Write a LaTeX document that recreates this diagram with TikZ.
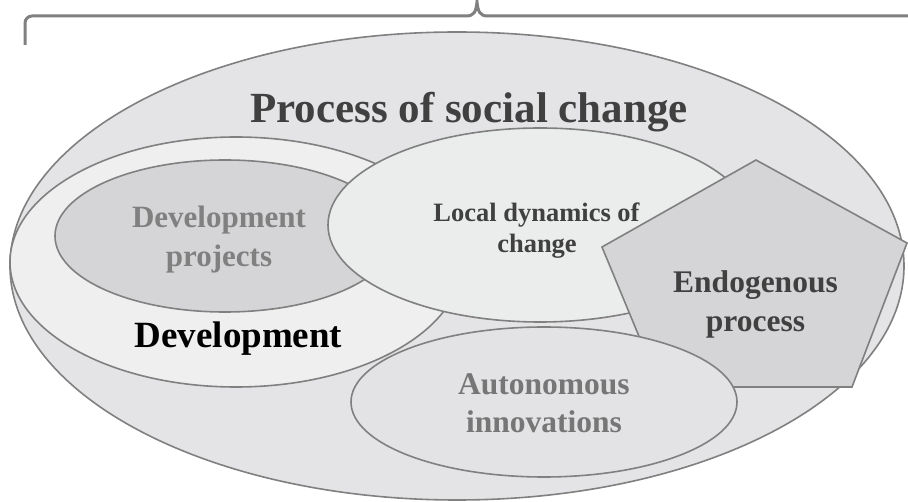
\documentclass[tikz,border=0pt]{standalone}
\usepackage{fontspec}
\setmainfont{Liberation Serif}
\usetikzlibrary{shapes.geometric}
\definecolor{edgegray}{RGB}{128,128,128}
\definecolor{outerfill}{RGB}{228,228,230}
\definecolor{devfill}{RGB}{239,239,239}
\definecolor{projfill}{RGB}{213,213,215}
\definecolor{localfill}{RGB}{235,236,236}
\definecolor{pentfill}{RGB}{213,213,215}
\definecolor{autofill}{RGB}{227,227,229}
\definecolor{darktext}{RGB}{64,64,64}
\definecolor{greytext}{RGB}{128,128,128}
\definecolor{autotext}{RGB}{118,118,118}
\begin{document}
\begin{tikzpicture}[x=1pt,y=-1pt,
  blob/.style={ellipse, draw=edgegray, line width=1.6pt, inner sep=0pt, outer sep=0pt},
  lbl/.style={anchor=base, inner sep=0pt, font={\bfseries\fontsize{#1}{#1}\selectfont}},
]
\useasboundingbox (0,0) rectangle (908,502);
\clip (0,0) rectangle (908,502);
\fill[white] (0,0) rectangle (908,502);

% brace
\draw[edgegray, line width=3pt, rounded corners=7pt]
  (25,45) -- (25,16) -- (466,16);
\draw[edgegray, line width=3pt]
  (466,16) .. controls (474,16) and (476,12) .. (477,2)
  .. controls (478,12) and (480,16) .. (488,16);
\draw[edgegray, line width=3pt, rounded corners=7pt]
  (488,16) -- (929,16) -- (929,45);

% shapes
\node[blob, fill=outerfill, minimum width=894pt, minimum height=468pt] (outer) at (457,266) {};
\node[blob, fill=devfill, minimum width=452pt, minimum height=250pt] (dev) at (236,262) {};
\node[blob, fill=projfill, minimum width=340pt, minimum height=152pt] (proj) at (225,236) {};
\node[blob, fill=localfill, minimum width=424pt, minimum height=194pt] (local) at (540,225) {};
\coordinate (pt) at (756,160);
\coordinate (pr) at (907,243);
\coordinate (pbr) at (852,387);
\coordinate (pbl) at (660,387);
\coordinate (pl) at (602,247);
\draw[draw=edgegray, fill=pentfill, line width=1.6pt, line join=miter]
  (pt) -- (pr) -- (pbr) -- (pbl) -- (pl) -- cycle;
\node[blob, fill=autofill, minimum width=386pt, minimum height=150pt] (auto) at (544,402) {};

% labels
\node[lbl=43, text=darktext] (title) at (469,123) {Process of social change};
\node[lbl=31, text=greytext] (proj1) at (219,228) {Development};
\node[lbl=31, text=greytext] (proj2) at (219,267) {projects};
\node[lbl=37, text=black] (devlbl) at (238.5,348) {Development};
\node[lbl=26.5, text=darktext] (local1) at (536.5,222) {Local dynamics of};
\node[lbl=26.5, text=darktext] (local2) at (537,253) {change};
\node[lbl=31.5, text=darktext] (endo1) at (755.5,293) {Endogenous};
\node[lbl=31.5, text=darktext] (endo2) at (755.5,332) {process};
\node[lbl=31.5, text=autotext] (auto1) at (544,395) {Autonomous};
\node[lbl=31.5, text=autotext] (auto2) at (544,433) {innovations};
\end{tikzpicture}
\end{document}
